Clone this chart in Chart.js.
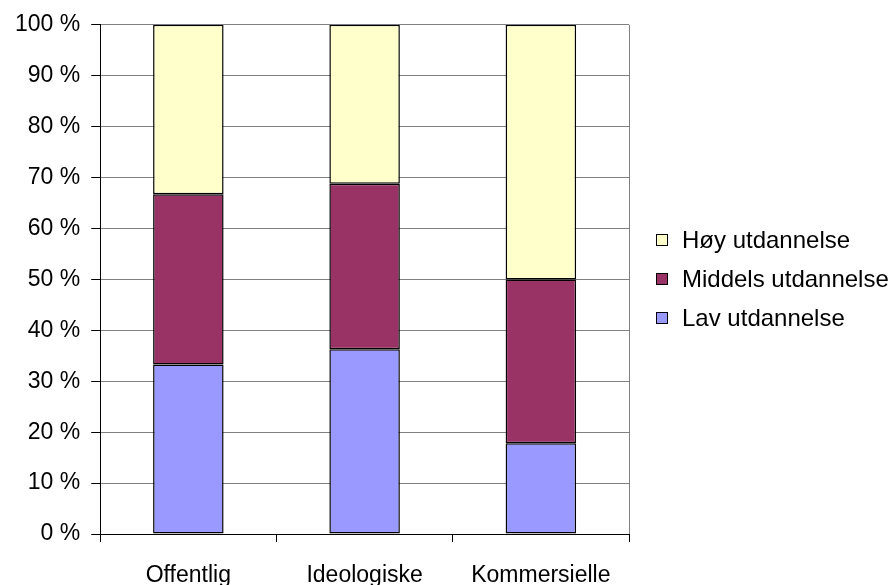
<!DOCTYPE html>
<html>
<head>
<meta charset="utf-8">
<script src="https://cdn.jsdelivr.net/npm/chart.js@4"></script>
<style>
  html, body { margin: 0; padding: 0; background: #fff; }
  #wrap { width: 896px; height: 585px; }
</style>
</head>
<body>
<div id="wrap"><canvas id="c" width="896" height="585"></canvas></div>
<script>
// --- data ---
const categories = ['Offentlig', 'Ideologiske', 'Kommersielle'];
const lav = [33.3, 36.3, 17.8];
const middels = [33.4, 32.5, 32.2];
const hoy = [33.3, 31.2, 50.0];
const yTicks = [0, 10, 20, 30, 40, 50, 60, 70, 80, 90, 100];

const FAMILY = '"Liberation Sans", Arial, sans-serif';
const font = { family: FAMILY, size: 23 };

// right border of the plot area + legend to the right of it
const extras = {
    id: 'extras',
    afterDatasetsDraw(chart) {
        const a = chart.chartArea;
        const c = chart.ctx;
        c.save();
        c.strokeStyle = '#808080';
        c.lineWidth = 1;
        c.beginPath();
        c.moveTo(Math.round(a.right) + 0.5, a.top);
        c.lineTo(Math.round(a.right) + 0.5, a.bottom);
        c.stroke();
        c.restore();
    },
    afterDraw(chart) {
        const a = chart.chartArea;
        const c = chart.ctx;
        const sets = chart.data.datasets.slice().reverse();
        const rowH = 39;
        const midY = (a.top + a.bottom) / 2;
        const y0 = midY - rowH * (sets.length - 1) / 2;
        const bx = Math.round(a.right) + 27;
        c.save();
        c.font = '24px ' + FAMILY;
        c.textBaseline = 'middle';
        sets.forEach((ds, i) => {
            const y = Math.round(y0 + i * rowH);
            c.fillStyle = ds.backgroundColor;
            c.fillRect(bx + 0.5, y - 6 + 0.5, 11, 11);
            c.strokeStyle = '#000';
            c.lineWidth = 1;
            c.strokeRect(bx + 0.5, y - 6 + 0.5, 11, 11);
            c.fillStyle = '#000';
            c.fillText(ds.label, bx + 26, y + 1);
        });
        c.restore();
    }
};

const bar = (label, data, color) => ({
    label, data,
    backgroundColor: color,
    borderColor: '#000',
    borderWidth: 1.5,
    borderSkipped: false,
    barPercentage: 0.4,
    categoryPercentage: 1.0
});

new Chart(document.getElementById('c'), {
    type: 'bar',
    data: {
        labels: categories,
        datasets: [
            bar('Lav utdannelse', lav, '#9999ff'),
            bar('Middels utdannelse', middels, '#993366'),
            bar('Høy utdannelse', hoy, '#ffffcc')
        ]
    },
    options: {
        responsive: false,
        animation: false,
        layout: { padding: { left: 4, top: 24, right: 267, bottom: 0 } },
        scales: {
            x: {
                stacked: true,
                afterFit: s => { s.height = 51; },
                grid: { offset: true, drawOnChartArea: false, drawTicks: true, tickLength: 8, color: '#000' },
                border: { color: '#000', width: 1 },
                ticks: { color: '#000', font, padding: 20 }
            },
            y: {
                stacked: true,
                min: 0, max: 100,
                afterBuildTicks: (s) => { s.ticks = yTicks.map(v => ({ value: v })); },
                grid: { color: '#808080', tickColor: '#000', tickLength: 9 },
                border: { color: '#000', width: 1 },
                ticks: { color: '#000', font, padding: 11, callback: v => v + ' %' }
            }
        },
        plugins: {
            legend: { display: false },
            tooltip: { enabled: false }
        }
    },
    plugins: [extras]
});
</script>
</body>
</html>
